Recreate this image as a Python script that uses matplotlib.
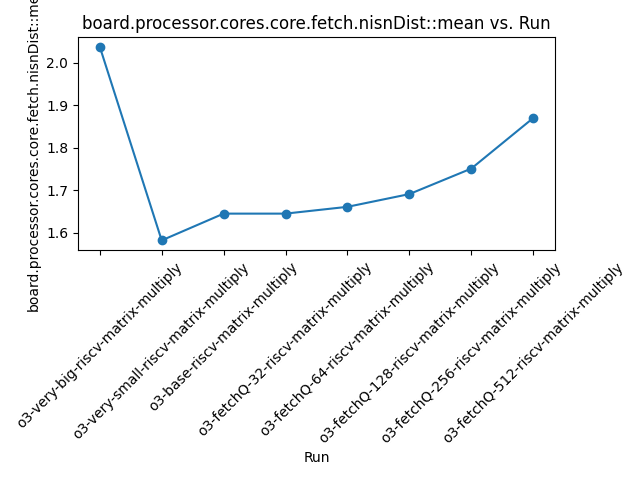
import matplotlib
matplotlib.use("Agg")
import matplotlib.pyplot as plt

runs = [
    "o3-very-big-riscv-matrix-multiply",
    "o3-very-small-riscv-matrix-multiply",
    "o3-base-riscv-matrix-multiply",
    "o3-fetchQ-32-riscv-matrix-multiply",
    "o3-fetchQ-64-riscv-matrix-multiply",
    "o3-fetchQ-128-riscv-matrix-multiply",
    "o3-fetchQ-256-riscv-matrix-multiply",
    "o3-fetchQ-512-riscv-matrix-multiply",
]
nisn_mean = [2.038, 1.582, 1.645, 1.645, 1.661, 1.691, 1.751, 1.870]

stat = "board.processor.cores.core.fetch.nisnDist::mean"

fig, ax = plt.subplots(figsize=(6.4, 4.8), dpi=100)
ax.plot(runs, nisn_mean, marker="o")
ax.set_title(stat + " vs. Run")
ax.set_xlabel("Run")
ax.set_ylabel(stat)
plt.xticks(rotation=45)
fig.subplots_adjust(left=0.122, right=0.867, top=0.923, bottom=0.479)
fig.savefig("out.png")
